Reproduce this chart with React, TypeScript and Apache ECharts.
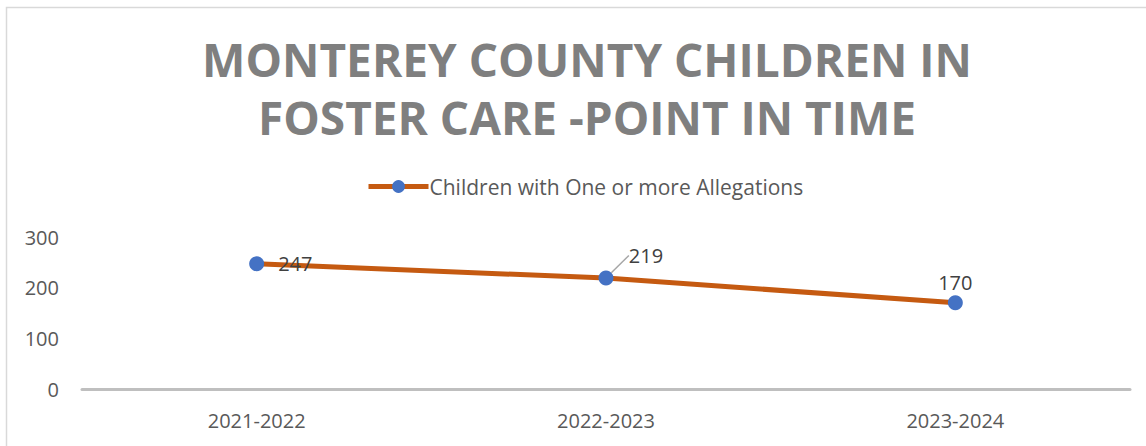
import React, { useEffect, useRef } from "react";
import * as echarts from "echarts";

const categories = ["2021-2022", "2022-2023", "2023-2024"];
const values = [247, 219, 170];
const seriesName = "Children with One or more Allegations";
const titleText = "MONTEREY COUNTY CHILDREN IN\nFOSTER CARE -POINT IN TIME";

export default function App() {
  const ref = useRef<HTMLDivElement>(null);
  useEffect(() => {
    const chart = echarts.init(ref.current!, null, { renderer: "svg" });
    const labelPos = ["right", "top", "top"];
    const labelDist = [14, 2, 3];
    const showLine = [false, true, false];
    chart.setOption({
      animation: false,
      backgroundColor: "#ffffff",
      textStyle: { fontFamily: "Open Sans" },
      graphic: [
        {
          type: "rect",
          shape: { x: 6.5, y: 7.5, width: 1150, height: 450 },
          style: { fill: "none", stroke: "#D9D9D9", lineWidth: 1.5 },
          silent: true,
        },
      ],
      title: {
        text: titleText,
        left: 582,
        textAlign: "center",
        top: 25,
        textStyle: {
          fontFamily: "Open Sans",
          fontWeight: "bold",
          fontSize: 46,
          lineHeight: 58,
          color: "#7F7F7F",
        },
      },
      legend: {
        top: 171,
        left: 361,
        itemWidth: 60,
        itemHeight: 16,
        itemGap: 4,
        lineStyle: { width: 5 },
        textStyle: { fontSize: 21, color: "#595959", fontFamily: "Open Sans", padding: [0, 0, 0, -4] },
        data: [seriesName],
      },
      grid: { left: 82, right: 16, top: 237, bottom: 57, containLabel: false },
      xAxis: {
        type: "category",
        data: categories,
        boundaryGap: true,
        axisLine: { lineStyle: { color: "#BFBFBF", width: 3 } },
        axisTick: { show: false },
        axisLabel: { fontSize: 20, color: "#595959", margin: 21 },
      },
      yAxis: {
        type: "value",
        min: 0,
        max: 300,
        interval: 100,
        axisLine: { show: false },
        axisTick: { show: false },
        splitLine: { show: false },
        axisLabel: { fontSize: 20, color: "#595959", margin: 23 },
      },
      series: [
        {
          name: seriesName,
          type: "line",
          data: values.map((v, i) => ({
            value: v,
            label: { position: labelPos[i], distance: labelDist[i] },
            labelLine: { show: showLine[i] },
          })),
          symbol: "circle",
          symbolSize: 15,
          itemStyle: { color: "#4472C4" },
          lineStyle: { color: "#C55A11", width: 5 },
          label: {
            show: true,
            fontSize: 20,
            color: "#404040",
          },
          labelLine: { show: false, lineStyle: { color: "#A6A6A6", width: 1.5 } },
          labelLayout: (params: any) => {
            if (params.dataIndex === 1) return { dx: 40, dy: -3 };
            return {};
          },
        },
      ],
    });
    return () => chart.dispose();
  }, []);
  return (
    <div
      ref={ref}
      style={{ position: "fixed", left: 0, top: 0, width: 1146, height: 446 }}
    />
  );
}
